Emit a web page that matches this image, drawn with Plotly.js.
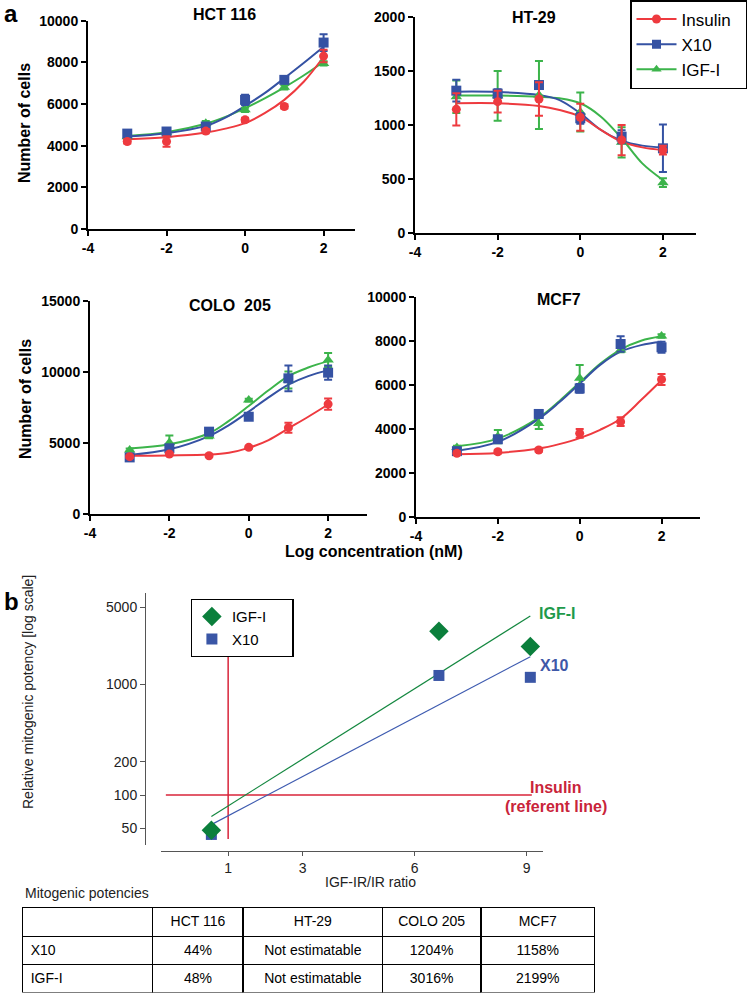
<!DOCTYPE html>
<html>
<head>
<meta charset="utf-8">
<script src="https://cdn.plot.ly/plotly-3.0.1.min.js"></script>
<style>
  body { margin: 0; background: #fff; }
  #plot { width: 750px; height: 993px; }
</style>
</head>
<body>
<div id="plot"></div>
<script>
// Doses (log nM) where cells were counted, and where the fitted curves were read
let doses = [-3, -2, -1, 0, 1, 2]
let fitDoses = [-3, -2, -1, -0.5, 0, 0.5, 1, 1.5, 2]
let seriesNames = ["Insulin", "X10", "IGF-I"]

// HCT 116
let hctInsulin = [4200, 4200, 4700, 5240, 5880, 8300]
let hctInsulinErr = [100, 250, 100, 100, 100, 300]
let hctX10 = [4580, 4680, 4920, 6200, 7160, 8950]
let hctX10Err = [150, 100, 120, 250, 120, 400]
let hctIgf = [4430, 4650, 5080, 5720, 6800, 7950]
let hctIgfErr = [100, 100, 100, 100, 100, 100]
let hctInsulinFit = [4310, 4410, 4630, 4820, 5080, 5560, 6200, 7080, 8270]
let hctX10Fit = [4440, 4600, 4950, 5350, 5910, 6520, 7240, 7980, 8750]
let hctIgfFit = [4470, 4650, 5050, 5380, 5800, 6270, 6800, 7380, 8030]

// HT-29
let htInsulin = [1145, 1216, 1241, 1071, 861, 768]
let htInsulinErr = [150, 100, 155, 125, 140, 40]
let htX10 = [1318, 1290, 1370, 1062, 892, 784]
let htX10Err = [100, 40, 30, 50, 60, 220]
let htIgf = [1262, 1270, 1278, 1120, 840, 466]
let htIgfErr = [150, 230, 315, 180, 140, 40]
let htInsulinFit = [1201, 1201, 1176, 1139, 1077, 954, 846, 793, 768]
let htX10Fit = [1309, 1306, 1278, 1231, 1108, 954, 855, 809, 793]
let htIgfFit = [1272, 1272, 1262, 1247, 1201, 1077, 877, 645, 491]

// COLO 205
let coloInsulin = [4030, 4220, 4100, 4690, 6070, 7730]
let coloInsulinErr = [80, 80, 80, 80, 350, 400]
let coloX10 = [3980, 4620, 5790, 6840, 9540, 9940]
let coloX10Err = [100, 100, 150, 100, 900, 500]
let coloIgf = [4500, 5020, 5480, 8010, 9420, 10830]
let coloIgfErr = [100, 500, 150, 100, 600, 500]
let coloInsulinFit = [4100, 4120, 4180, 4310, 4650, 5200, 6020, 6840, 7700]
let coloX10Fit = [4150, 4550, 5480, 6250, 7200, 8200, 9100, 9700, 10100]
let coloIgfFit = [4600, 4900, 5680, 6550, 7600, 8700, 9700, 10300, 10750]

// MCF7
let mcfInsulin = [2880, 2950, 3030, 3790, 4320, 6240]
let mcfInsulinErr = [80, 80, 80, 200, 200, 250]
let mcfX10 = [2980, 3520, 4670, 5830, 7850, 7700]
let mcfX10Err = [100, 150, 150, 200, 350, 250]
let mcfIgf = [3140, 3640, 4240, 6290, 7580, 8210]
let mcfIgfErr = [80, 300, 250, 600, 100, 80]
let mcfInsulinFit = [2840, 2900, 3100, 3300, 3570, 3950, 4450, 5300, 6200]
let mcfX10Fit = [3000, 3400, 4450, 5200, 6050, 6900, 7500, 7800, 7950]
let mcfIgfFit = [3200, 3550, 4500, 5250, 6100, 6950, 7600, 8000, 8200]

// Panel b: potency vs IGF-IR/IR ratio (HCT 116, COLO 205, MCF7)
let ratio = [0.55, 6.65, 9.1]
let x10Rel = [44, 1204, 1158]
let igfRel = [48, 3016, 2199]
let fitRatio = [0.55, 9.1]
let igfFitLine = [64, 4150]
let x10FitLine = [54, 1780]
let insulinRefX = [-0.67, 9.14]
let insulinRefY = [100, 100]
let unitRatioX = [1, 1]
let unitRatioY = [40, 2050]

// Table
let cellLines = ["HCT 116", "HT-29", "COLO 205", "MCF7"]
let x10Potency = ["44%", "Not estimatable", "1204%", "1158%"]
let igfPotency = ["48%", "Not estimatable", "3016%", "2199%"]

let colors = ["#ee3a3f", "#3552a3", "#3cb44b"]
let symbols = ["circle", "square", "triangle-up"]
let font = "Liberation Sans, Arial, sans-serif"
let pad = "\u00a0\u00a0\u00a0\u00a0\u00a0"

let data = []

function addPanel(n, points, errs, fits) {
  let xa = n === 1 ? "x" : "x" + n
  let ya = n === 1 ? "y" : "y" + n
  // fitted curves, green first so red ends on top
  for (let s = 2; s >= 0; s--) {
    data.push({
      x: fitDoses, y: fits[s], xaxis: xa, yaxis: ya,
      mode: "lines", line: {color: colors[s], width: 2, shape: "spline", smoothing: 1},
      showlegend: false, hoverinfo: "skip"
    })
  }
  for (let s = 2; s >= 0; s--) {
    data.push({
      x: doses, y: points[s], xaxis: xa, yaxis: ya, name: seriesNames[s],
      mode: "markers",
      marker: {symbol: symbols[s], size: s === 0 ? 9 : 10, color: colors[s]},
      error_y: {type: "data", array: errs[s], color: colors[s], thickness: 2, width: 4},
      showlegend: false, cliponaxis: false
    })
  }
}

addPanel(1, [hctInsulin, hctX10, hctIgf], [hctInsulinErr, hctX10Err, hctIgfErr], [hctInsulinFit, hctX10Fit, hctIgfFit])
addPanel(2, [htInsulin, htX10, htIgf], [htInsulinErr, htX10Err, htIgfErr], [htInsulinFit, htX10Fit, htIgfFit])
addPanel(3, [coloInsulin, coloX10, coloIgf], [coloInsulinErr, coloX10Err, coloIgfErr], [coloInsulinFit, coloX10Fit, coloIgfFit])
addPanel(4, [mcfInsulin, mcfX10, mcfIgf], [mcfInsulinErr, mcfX10Err, mcfIgfErr], [mcfInsulinFit, mcfX10Fit, mcfIgfFit])

// legend entries for panel a (line + marker)
for (let s = 0; s < 3; s++) {
  data.push({
    x: [null], y: [null], xaxis: "x2", yaxis: "y2", name: seriesNames[s] + (s === 0 ? "\u00a0\u00a0" : ""),
    mode: "lines+markers", line: {color: colors[s], width: 2},
    marker: {symbol: symbols[s], size: 9, color: colors[s]},
    legend: "legend"
  })
}

// panel b
data.push({x: insulinRefX, y: insulinRefY, xaxis: "x5", yaxis: "y5", mode: "lines",
  line: {color: "#d8243a", width: 1.5}, showlegend: false, hoverinfo: "skip"})
data.push({x: unitRatioX, y: unitRatioY, xaxis: "x5", yaxis: "y5", mode: "lines",
  line: {color: "#d8243a", width: 1.5}, showlegend: false, hoverinfo: "skip"})
data.push({x: fitRatio, y: igfFitLine, xaxis: "x5", yaxis: "y5", mode: "lines",
  line: {color: "#13873f", width: 1.2}, showlegend: false, hoverinfo: "skip"})
data.push({x: fitRatio, y: x10FitLine, xaxis: "x5", yaxis: "y5", mode: "lines",
  line: {color: "#3e5bb0", width: 1.2}, showlegend: false, hoverinfo: "skip"})
data.push({x: ratio, y: x10Rel, xaxis: "x5", yaxis: "y5", name: "X10", mode: "markers",
  marker: {symbol: "square", size: 11, color: "#3a56a6"}, legend: "legend2", legendrank: 2})
data.push({x: ratio, y: igfRel, xaxis: "x5", yaxis: "y5", name: "IGF-I" + pad, mode: "markers",
  marker: {symbol: "diamond", size: 15, color: "#0b7f3c"}, legend: "legend2", legendrank: 1})

// table
data.push({
  type: "table",
  domain: {x: [22.7 / 750, 595 / 750], y: [0, 1 - 907.5 / 993]},
  columnwidth: [130, 90.6, 139.4, 98.3, 114],
  header: {
    values: [""].concat(cellLines),
    align: ["left", "center", "center", "center", "center"],
    height: 29, line: {color: "black", width: 1.5}, fill: {color: "white"},
    font: {family: font, size: 14, color: "black"}
  },
  cells: {
    values: [["X10", "IGF-I"]].concat(cellLines.map((c, i) => [x10Potency[i], igfPotency[i]])),
    align: ["left", "center", "center", "center", "center"],
    height: 28, line: {color: "black", width: 1.5}, fill: {color: "white"},
    font: {family: font, size: 14, color: "black"}
  }
})

function prismX(domain, range, anchor) {
  let vals = [-4, -2, 0, 2]
  return {
    domain: domain, range: range, anchor: anchor, tickvals: vals, ticktext: vals.map(String),
    showline: true, linewidth: 2, linecolor: "black", ticks: "outside", ticklen: 5,
    tickwidth: 2, tickcolor: "black", showgrid: false, zeroline: false,
    tickfont: {family: font, size: 14, weight: "bold", color: "black"}
  }
}

function prismY(domain, top, step, anchor) {
  let vals = []
  for (let v = 0; v <= top; v += step) vals.push(v)
  return {
    domain: domain, range: [0, top], anchor: anchor, tickvals: vals, ticktext: vals.map(String),
    showline: true, linewidth: 2, linecolor: "black", ticks: "outside", ticklen: 5,
    tickwidth: 2, tickcolor: "black", showgrid: false, zeroline: false,
    tickfont: {family: font, size: 14, weight: "bold", color: "black"}
  }
}

function ann(text, x, y, size, opts) {
  return Object.assign({
    text: text, xref: "paper", yref: "paper", x: x / 750, y: 1 - y / 993,
    xanchor: "center", yanchor: "middle", showarrow: false,
    font: {family: font, size: size, color: "black"}
  }, opts || {})
}

let bold = (size, color) => ({family: font, size: size, weight: "bold", color: color || "black"})

let layout = {
  width: 750, height: 993,
  margin: {l: 0, r: 0, t: 0, b: 0},
  paper_bgcolor: "white", plot_bgcolor: "rgba(0,0,0,0)",
  font: {family: font, color: "black"},
  xaxis: prismX([88 / 750, 355 / 750], [-4, 2.8], "y"),
  yaxis: prismY([1 - 229 / 993, 1 - 20.7 / 993], 10000, 2000, "x"),
  xaxis2: prismX([415 / 750, 696 / 750], [-4, 2.8], "y2"),
  yaxis2: prismY([1 - 233 / 993, 1 - 17 / 993], 2000, 500, "x2"),
  xaxis3: prismX([90 / 750, 367 / 750], [-4, 2.98], "y3"),
  yaxis3: prismY([1 - 514 / 993, 1 - 300.7 / 993], 15000, 5000, "x3"),
  xaxis4: prismX([416 / 750, 700 / 750], [-4, 2.94], "y4"),
  yaxis4: prismY([1 - 516.7 / 993, 1 - 296.7 / 993], 10000, 2000, "x4"),
  xaxis5: {
    domain: [161 / 750, 543 / 750], range: [-0.8, 9.44], anchor: "free", position: 1 - 850.7 / 993,
    tickvals: [1, 3, 6, 9], ticktext: ["1", "3", "6", "9"],
    showline: true, linewidth: 1, linecolor: "#555", ticks: "outside", ticklen: 4, tickcolor: "#555",
    showgrid: false, zeroline: false, tickfont: {family: font, size: 14, color: "#222"}
  },
  yaxis5: {
    type: "log", domain: [1 - 845 / 993, 1 - 593 / 993], range: [1.548, 3.826],
    anchor: "free", position: 145 / 750,
    tickvals: [50, 100, 200, 1000, 5000], ticktext: ["50", "100", "200", "1000", "5000"],
    showline: true, linewidth: 1, linecolor: "#555", ticks: "outside", ticklen: 5, tickcolor: "#555",
    showgrid: false, zeroline: false, tickfont: {family: font, size: 14, color: "#222"}
  },
  legend: {
    x: 630 / 750, y: 1, xanchor: "left", yanchor: "top",
    bordercolor: "black", borderwidth: 1.5, bgcolor: "white",
    font: {family: font, size: 17, color: "black"}, itemwidth: 40
  },
  legend2: {
    x: 190.7 / 750, y: 1 - 599 / 993, xanchor: "left", yanchor: "top",
    bordercolor: "black", borderwidth: 1.2, bgcolor: "white",
    font: {family: font, size: 15, color: "black"}
  },
  annotations: [
    ann("a", 2, 13.5, 22, {xanchor: "left", font: bold(24)}),
    ann("b", 2, 601.7, 22, {xanchor: "left", font: bold(24)}),
    ann("HCT 116", 224, 15, 16, {font: bold(16)}),
    ann("HT-29", 534, 18, 16, {font: bold(16)}),
    ann("COLO  205", 230, 305, 16, {font: bold(16)}),
    ann("MCF7", 559, 299, 16, {font: bold(16)}),
    ann("Number of cells", 25, 123, 16, {textangle: -90, font: bold(16)}),
    ann("Number of cells", 25, 399, 16, {textangle: -90, font: bold(16)}),
    ann("Log concentration (nM)", 374, 551, 16, {font: bold(16)}),
    ann("Relative mitogenic potency [log scale]", 28, 692, 14, {textangle: -90, font: {family: font, size: 14, color: "#222"}}),
    ann("IGF-IR/IR ratio", 370, 882, 14, {font: {family: font, size: 14, color: "#222"}}),
    ann("IGF-I", 536.7, 613.3, 16, {xanchor: "left", font: bold(16, "#1f9a4b")}),
    ann("X10", 538, 665, 16, {xanchor: "left", font: bold(16, "#3f58a8")}),
    ann("Insulin", 528, 787.7, 16, {xanchor: "left", font: bold(16, "#c9243a")}),
    ann("(referent line)", 502.7, 806.7, 16, {xanchor: "left", font: bold(16, "#c9243a")}),
    ann("Mitogenic potencies", 22.7, 892.5, 14, {xanchor: "left", font: {family: font, size: 14, color: "#222"}})
  ]
}

Plotly.newPlot("plot", data, layout, {staticPlot: true})
</script>
</body>
</html>
